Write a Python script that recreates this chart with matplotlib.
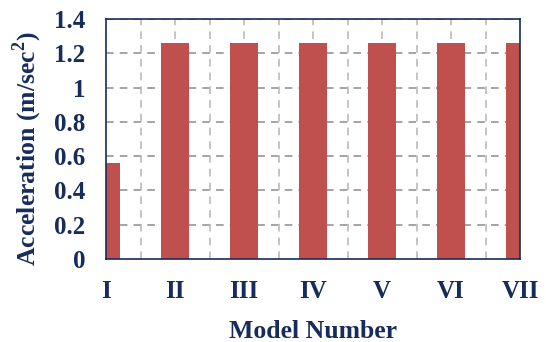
import matplotlib.pyplot as plt
import numpy as np

models = ["I", "II", "III", "IV", "V", "VI", "VII"]
accel = [0.56, 1.26, 1.26, 1.26, 1.26, 1.26, 1.26]
yticks = [0, 0.2, 0.4, 0.6, 0.8, 1, 1.2, 1.4]

navy = "#172c5c"
bar_color = "#c0504d"

plt.rcParams["font.family"] = ["Liberation Serif", "DejaVu Serif"]
plt.rcParams["font.weight"] = "bold"
plt.rcParams["mathtext.fontset"] = "custom"
plt.rcParams["mathtext.rm"] = "Liberation Serif:bold"
plt.rcParams["mathtext.bf"] = "Liberation Serif:bold"

fig = plt.figure(figsize=(5.46, 3.42), dpi=100)
ax = fig.add_axes([106 / 546, 1 - 259 / 342, 414 / 546, 240 / 342])

x = np.arange(len(models))
ax.bar(x, accel, width=0.4, color=bar_color, zorder=3)

ax.set_xlim(0, 6)
ax.set_ylim(0, 1.4)
ax.set_xticks(x)
ax.set_xticklabels(models)
ax.set_yticks(yticks)
ax.set_yticklabels([f"{v:g}" for v in yticks])

# dashed grid: horizontal on y ticks, vertical every half category
for v in yticks[1:]:
    ax.axhline(v, color="#8c8c8c", ls=(0, (5, 4)), lw=1.1, zorder=1)
for v in np.arange(0.5, 6, 0.5):
    ax.axvline(v, color="#b4b4b4", ls=(0, (5, 4)), lw=1.1, zorder=1)

for s in ax.spines.values():
    s.set_color(navy)
    s.set_linewidth(1.2)
    s.set_zorder(4)

ax.tick_params(length=0, colors=navy, labelsize=18)
ax.tick_params(axis="y", pad=15)
ax.tick_params(axis="x", pad=15)
for lbl in ax.get_xticklabels() + ax.get_yticklabels():
    lbl.set_fontweight("bold")

ax.set_xlabel("Model Number", fontsize=18.5, fontweight="bold", color=navy, labelpad=12)
ax.set_ylabel("Acceleration (m/sec$^{2}$)", fontsize=18.5, fontweight="bold", color=navy)
ax.yaxis.set_label_coords(-0.15, 0.46)

fig.savefig("out.png", dpi=100)
